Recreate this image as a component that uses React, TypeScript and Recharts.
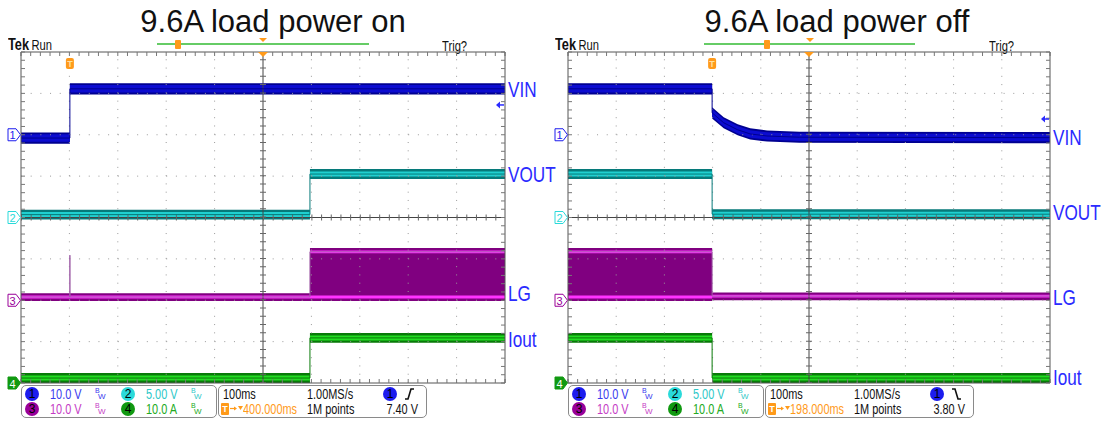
import React from "react";
import { Area, ComposedChart, Line, ReferenceDot, ReferenceLine, XAxis, YAxis } from "recharts";

type Pt = { t: number; v: number };
type LgPt = { t: number; lo: number; hi: number };
type Lbl = { name: string; v: number };

// all levels are in screen divisions (x: 0..10, y: 0..8 from the bottom)

// 9.6A load power on
const onVin: Pt[] = [
  { t: 0, v: 5.92 },
  { t: 1.01, v: 5.92 },
  { t: 1.01, v: 7.11 },
  { t: 10, v: 7.11 },
];
const onVout: Pt[] = [
  { t: 0, v: 4.07 },
  { t: 5.97, v: 4.07 },
  { t: 5.97, v: 5.05 },
  { t: 10, v: 5.05 },
];
const onLg: LgPt[] = [
  { t: 0, lo: 2.08, hi: 2.08 },
  { t: 1.01, lo: 2.08, hi: 2.08 },
  { t: 1.01, lo: 2.08, hi: 3.09 },
  { t: 1.01, lo: 2.08, hi: 2.08 },
  { t: 5.97, lo: 2.08, hi: 2.08 },
  { t: 5.97, lo: 2.08, hi: 3.17 },
  { t: 10, lo: 2.08, hi: 3.17 },
];
const onIout: Pt[] = [
  { t: 0, v: 0.12 },
  { t: 5.97, v: 0.12 },
  { t: 5.97, v: 1.09 },
  { t: 10, v: 1.09 },
];
const onLabels: Lbl[] = [
  { name: "VIN", v: 7.11 },
  { name: "VOUT", v: 5.05 },
  { name: "LG", v: 2.17 },
  { name: "Iout", v: 1.06 },
];

// 9.6A load power off
const offVin: Pt[] = [
  { t: 0, v: 7.11 },
  { t: 2.99, v: 7.11 },
  { t: 2.99, v: 6.53 },
  { t: 3.23, v: 6.29 },
  { t: 3.52, v: 6.12 },
  { t: 3.78, v: 6.02 },
  { t: 4.13, v: 5.97 },
  { t: 4.8, v: 5.94 },
  { t: 10, v: 5.93 },
];
const offVout: Pt[] = [
  { t: 0, v: 5.05 },
  { t: 2.99, v: 5.05 },
  { t: 2.99, v: 4.08 },
  { t: 10, v: 4.08 },
];
const offLg: LgPt[] = [
  { t: 0, lo: 2.08, hi: 3.17 },
  { t: 2.99, lo: 2.08, hi: 3.17 },
  { t: 2.99, lo: 2.1, hi: 2.1 },
  { t: 10, lo: 2.1, hi: 2.1 },
];
const offIout: Pt[] = [
  { t: 0, v: 1.09 },
  { t: 2.99, v: 1.09 },
  { t: 2.99, v: 0.12 },
  { t: 10, v: 0.12 },
];
const offLabels: Lbl[] = [
  { name: "VIN", v: 5.94 },
  { name: "VOUT", v: 4.12 },
  { name: "LG", v: 2.08 },
  { name: "Iout", v: 0.14 },
];

const channelLevels = [6, 4, 2, 0];
const channelScales = ["10.0 V", "5.00 V", "10.0 V", "10.0 A"];

const CH = [
  { chip: "#1c1cee", text: "#3a3aee", dark: "#000090", bright: "#0c0cd0" },
  { chip: "#2adada", text: "#2ec8c8", dark: "#067a7a", bright: "#20d0d0" },
  { chip: "#990099", text: "#c53cc5", dark: "#800080", bright: "#ff33ff" },
  { chip: "#119911", text: "#22aa22", dark: "#087a08", bright: "#22dd22" },
];

const NARROW = '"Liberation Sans Narrow", "Liberation Sans", Arial, sans-serif';
const ORANGE = "#ff9a1a";
const LABEL_BLUE = "#2b2bff";

const minorX = Array.from({ length: 51 }, (_, i) => +(i * 0.2).toFixed(1));
const minorY = Array.from({ length: 41 }, (_, i) => +(i * 0.2).toFixed(1));
const gridX = [1, 2, 3, 4, 6, 7, 8, 9];
const gridY = [1, 2, 3, 5, 6, 7];

const PLOT_TOP = 52;
const PLOT_BOTTOM = 383;
const H = 421;

const ax = { xAxisId: "b", yAxisId: "l" } as const;

function band(id: string, data: Pt[], half: number, core: number, dark: string, bright: string) {
  return [
    <Line key={id + "e"} {...ax} data={data} dataKey="v" type="linear" stroke={dark} strokeWidth={1}
      dot={false} activeDot={false} isAnimationActive={false} />,
    <Area key={id + "o"} {...ax} data={data} dataKey={(d: Pt) => [d.v - half, d.v + half]} type="linear"
      stroke="none" fill={dark} fillOpacity={1} dot={false} activeDot={false} isAnimationActive={false} />,
    <Area key={id + "i"} {...ax} data={data} dataKey={(d: Pt) => [d.v - core, d.v + core]} type="linear"
      stroke="none" fill={bright} fillOpacity={1} dot={false} activeDot={false} isAnimationActive={false} />,
  ];
}

function lgBand(data: LgPt[]) {
  const c = CH[2];
  return [
    <Line key="lge" {...ax} data={data} dataKey="hi" type="linear" stroke="#a060a8" strokeWidth={1}
      dot={false} activeDot={false} isAnimationActive={false} />,
    <Area key="lgo" {...ax} data={data} dataKey={(d: LgPt) => [d.lo - 0.1, d.hi + 0.09]} type="linear"
      stroke="none" fill={c.dark} fillOpacity={1} dot={false} activeDot={false} isAnimationActive={false} />,
    <Area key="lgl" {...ax} data={data} dataKey={(d: LgPt) => [d.lo - 0.035, d.lo + 0.035]} type="linear"
      stroke="none" fill={c.bright} fillOpacity={1} dot={false} activeDot={false} isAnimationActive={false} />,
    <Area key="lgh" {...ax} data={data}
      dataKey={(d: LgPt) => (d.hi - d.lo > 0.5 ? [d.hi - 0.035, d.hi + 0.035] : null)} type="linear"
      stroke="none" fill={c.bright} fillOpacity={1} dot={false} activeDot={false} isAnimationActive={false} />,
  ];
}

function Chip({ x, y, n, color }: { x: number; y: number; n: number; color: string }) {
  return (
    <div style={{
      position: "absolute", left: x - 7, top: y - 7, width: 14, height: 14, borderRadius: 7,
      background: color, color: "#000", fontSize: 12, lineHeight: "14px",
      textAlign: "center", fontFamily: NARROW,
    }}>{n}</div>
  );
}

function Txt({ x, y, color, children, w, right }: { x: number; y: number; color: string; children: React.ReactNode; w?: number; right?: boolean }) {
  return (
    <div style={{
      position: "absolute", left: x, top: y - 8, lineHeight: "16px", fontSize: 14, color,
      fontFamily: NARROW, whiteSpace: "nowrap", width: w, textAlign: right ? "right" : "left",
      transform: "scaleX(0.78)", transformOrigin: right ? "right center" : "left center",
    }}>{children}</div>
  );
}

function BwIcon({ x, y, color }: { x: number; y: number; color: string }) {
  return (
    <div style={{ position: "absolute", left: x, top: y - 7, width: 10, height: 14, fontFamily: NARROW, color }}>
      <span style={{ position: "absolute", left: 0, top: 0, fontSize: 7, lineHeight: "8px" }}>B</span>
      <span style={{ position: "absolute", left: 3, top: 5, fontSize: 8, lineHeight: "9px" }}>W</span>
    </div>
  );
}

type PanelProps = {
  left: number;
  width: number;
  plotRight: number;
  title: string;
  titleCenter: number;
  vin: Pt[];
  vout: Pt[];
  lg: LgPt[];
  iout: Pt[];
  labels: Lbl[];
  trigT: number;
  trigLevel: number;
  headerLine: [number, number];
  headerT: number;
  delay: string;
  level: string;
  rising: boolean;
};

function Panel(p: PanelProps) {
  const r1 = 394;
  const r2 = 409;
  const axisCommon = {
    type: "number" as const, mirror: true, allowDataOverflow: true, interval: 0 as const, tickSize: 4,
    tickFormatter: () => "", axisLine: { stroke: "#555" }, tickLine: { stroke: "#777" },
  };
  return (
    <div style={{ position: "absolute", left: p.left, top: 0, width: p.width, height: H }}>
      <div style={{
        position: "absolute", left: p.titleCenter - 250, width: 500, top: 6, textAlign: "center",
        fontFamily: '"Liberation Sans", Arial, sans-serif', fontSize: 31, lineHeight: "31px", color: "#111",
      }}>{p.title}</div>
      <div style={{ position: "absolute", left: 8, top: 36, fontFamily: NARROW, color: "#111", whiteSpace: "nowrap", transform: "scaleX(0.8)", transformOrigin: "left center" }}>
        <span style={{ fontSize: 16, fontWeight: "bold", lineHeight: "18px" }}>Tek</span>
        <span style={{ fontSize: 14, marginLeft: 3, lineHeight: "18px" }}>Run</span>
      </div>
      <div style={{ position: "absolute", left: 442, top: 37, fontFamily: NARROW, fontSize: 14, lineHeight: "18px", color: "#111", transform: "scaleX(0.8)", transformOrigin: "left center" }}>Trig?</div>
      <div style={{ position: "absolute", left: p.headerLine[0], top: 43, width: p.headerLine[1] - p.headerLine[0], height: 2, background: "#66cc66" }} />
      <div style={{ position: "absolute", left: p.headerT - 3, top: 40, width: 6, height: 9, background: ORANGE, borderRadius: 1 }} />
      <div style={{ position: "absolute", left: 259, top: 38, width: 0, height: 0, borderLeft: "4px solid transparent", borderRight: "4px solid transparent", borderTop: `4px solid ${ORANGE}` }} />

      <ComposedChart width={p.width} height={H}
        margin={{ top: PLOT_TOP, left: 21, right: p.width - p.plotRight, bottom: H - PLOT_BOTTOM }}
        style={{ position: "absolute", left: 0, top: 0 }}>
        <XAxis xAxisId="b" dataKey="t" orientation="bottom" domain={[0, 10]} ticks={minorX} {...axisCommon} />
        <XAxis xAxisId="t" dataKey="t" orientation="top" domain={[0, 10]} ticks={minorX} {...axisCommon} />
        <YAxis yAxisId="l" orientation="left" domain={[0, 8]} ticks={minorY} {...axisCommon} />
        <YAxis yAxisId="r" orientation="right" domain={[0, 8]} ticks={minorY} {...axisCommon} />

        {gridX.map((x) => (
          <ReferenceLine key={"gx" + x} {...ax} x={x} stroke="#9a9a9a" strokeDasharray="1 7.275" />
        ))}
        {gridY.map((y) => (
          <ReferenceLine key={"gy" + y} {...ax} y={y} stroke="#9a9a9a" strokeDasharray="1 8.68" />
        ))}
        <ReferenceLine {...ax} x={5} stroke="#444" />
        <ReferenceLine {...ax} y={4} stroke="#444" />
        <ReferenceLine {...ax} x={5} stroke="#666" strokeWidth={6} strokeDasharray="1 7.275" />
        <ReferenceLine {...ax} y={4} stroke="#666" strokeWidth={6} strokeDasharray="1 8.68" />

        {band("vin", p.vin, 0.135, 0.09, CH[0].dark, CH[0].bright)}
        {band("vout", p.vout, 0.12, 0.06, CH[1].dark, CH[1].bright)}
        {lgBand(p.lg)}
        {band("iout", p.iout, 0.12, 0.06, CH[3].dark, CH[3].bright)}

        {p.labels.map((l) => (
          <ReferenceDot key={l.name} {...ax} x={10} y={l.v} r={0} ifOverflow="visible"
            shape={(s: any) => (
              <text transform={`translate(${s.cx + 3},${s.cy}) scale(0.78,1)`} dominantBaseline="central"
                fill={LABEL_BLUE} fontFamily={NARROW} fontSize={22}>{l.name}</text>
            )} />
        ))}
        {channelLevels.map((lv, i) => (
          <ReferenceDot key={"ch" + i} {...ax} x={0} y={lv} r={0} ifOverflow="visible"
            shape={(s: any) => (
              <g>
                <path d={`M${s.cx - 13},${s.cy - 6} h8 l4.5,6 l-4.5,6 h-8 z`}
                  fill={i === 3 ? CH[3].chip : "#fff"} stroke={CH[i].chip} strokeWidth={1} />
                <text x={s.cx - 8.5} y={s.cy + 0.5} dominantBaseline="central" textAnchor="middle"
                  fontSize={11} fontFamily={NARROW} fill={i === 3 ? "#fff" : CH[i].chip}>{i + 1}</text>
              </g>
            )} />
        ))}
        <ReferenceDot {...ax} x={10} y={p.trigLevel} r={0} ifOverflow="visible"
          shape={(s: any) => (
            <g>
              <path d={`M${s.cx - 9},${s.cy} l4,-3.5 v7 z`} fill={LABEL_BLUE} />
              <line x1={s.cx - 6} x2={s.cx - 1} y1={s.cy} y2={s.cy} stroke={LABEL_BLUE} strokeWidth={1.5} />
            </g>
          )} />
        <ReferenceDot {...ax} x={p.trigT} y={8} r={0} ifOverflow="visible"
          shape={(s: any) => (
            <g>
              <rect x={s.cx - 4} y={s.cy + 6} width={8} height={11} rx={2} fill={ORANGE} />
              <text x={s.cx} y={s.cy + 12} textAnchor="middle" dominantBaseline="central" fontSize={9}
                fontWeight="bold" fontFamily={NARROW} fill="#ffe0a0">T</text>
            </g>
          )} />
        <ReferenceDot {...ax} x={5} y={8} r={0} ifOverflow="visible"
          shape={(s: any) => <path d={`M${s.cx - 5},${s.cy} h10 l-5,5 z`} fill={ORANGE} />} />
      </ComposedChart>

      <div style={{ position: "absolute", left: 21, top: 385, width: 194, height: 31, border: "1px solid #8a8a8a", borderRadius: 5 }} />
      <div style={{ position: "absolute", left: 218, top: 385, width: 207, height: 31, border: "1px solid #8a8a8a", borderRadius: 5 }} />
      {channelScales.map((s, i) => {
        const x0 = i % 2 === 0 ? 32 : 128;
        const y0 = i < 2 ? r1 : r2;
        return (
          <React.Fragment key={"st" + i}>
            <Chip x={x0} y={y0} n={i + 1} color={CH[i].chip} />
            <Txt x={x0 + 18} y={y0} color={CH[i].text}>{s}</Txt>
            <BwIcon x={x0 + 63} y={y0} color={CH[i].text} />
          </React.Fragment>
        );
      })}
      <Txt x={223} y={r1} color="#111">100ms</Txt>
      <Txt x={307} y={r1} color="#111">1.00MS/s</Txt>
      <Chip x={390} y={r1} n={1} color={CH[0].chip} />
      <svg style={{ position: "absolute", left: 404, top: r1 - 6 }} width={12} height={12}>
        <path d={p.rising ? "M1,11 h3 L7,1 h3" : "M1,1 h3 L7,11 h3"} fill="none" stroke="#111" strokeWidth={1.6} />
      </svg>
      <div style={{ position: "absolute", left: 221, top: r2 - 6, width: 8, height: 12, background: ORANGE, borderRadius: 1, color: "#fff", fontSize: 9, lineHeight: "12px", textAlign: "center", fontFamily: NARROW, fontWeight: "bold" }}>T</div>
      <svg style={{ position: "absolute", left: 230, top: r2 - 5 }} width={13} height={10}>
        <path d="M0,4.5 h6" stroke={ORANGE} strokeWidth={1.2} />
        <path d="M4,2.5 l3,2 l-3,2 z" fill={ORANGE} />
        <path d="M8,2 h5 l-2.5,4 z" fill={ORANGE} />
      </svg>
      <Txt x={243} y={r2} color={ORANGE}>{p.delay}</Txt>
      <Txt x={307} y={r2} color="#111">1M points</Txt>
      <Txt x={360} y={r2} w={58} right color="#111">{p.level}</Txt>
    </div>
  );
}

export default function App() {
  return (
    <div style={{ position: "absolute", left: 0, top: 0, width: 1103, height: H, background: "#fff", overflow: "hidden" }}>
      <Panel left={0} width={562} plotRight={505} title="9.6A load power on" titleCenter={273}
        vin={onVin} vout={onVout} lg={onLg} iout={onIout} labels={onLabels}
        trigT={1.01} trigLevel={6.72} headerLine={[157, 369]} headerT={178}
        delay="400.000ms" level="7.40 V" rising />
      <Panel left={547} width={556} plotRight={503} title="9.6A load power off" titleCenter={290}
        vin={offVin} vout={offVout} lg={offLg} iout={offIout} labels={offLabels}
        trigT={2.99} trigLevel={6.38} headerLine={[157, 368]} headerT={220}
        delay="198.000ms" level="3.80 V" rising={false} />
    </div>
  );
}
